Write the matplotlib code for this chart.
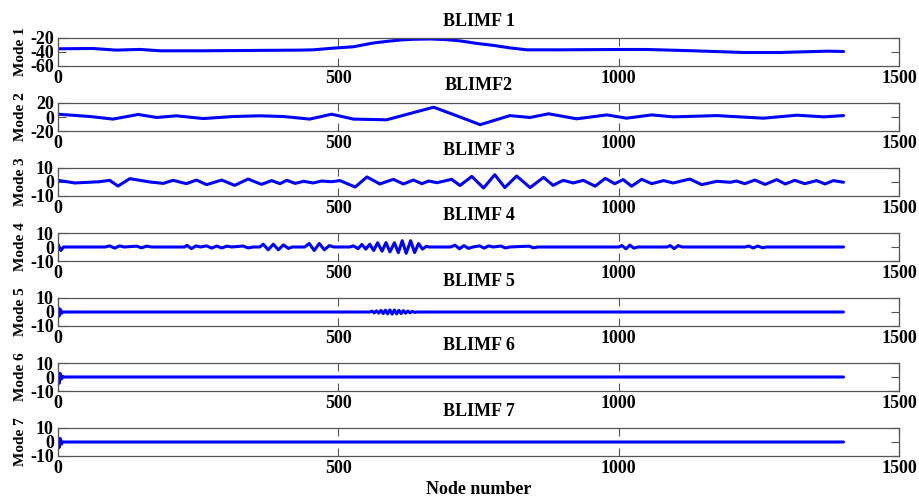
import matplotlib
matplotlib.use('Agg')
import matplotlib.pyplot as plt

plt.rcParams['font.family'] = ['Liberation Serif', 'DejaVu Serif']
plt.rcParams['font.weight'] = 'bold'
plt.rcParams['axes.unicode_minus'] = False

# values: (node, value) at turning points of each mode
mode1_nodes = [0, 62, 104, 146, 182, 253, 342, 432, 455, 491, 527, 562, 590, 610, 635,
               664, 690, 717, 745, 777, 805, 836, 896, 1003, 1050, 1134, 1223, 1288,
               1372, 1401]
mode1_vals = [-35.4, -35, -37.3, -36.3, -38.3, -38.3, -37.8, -37.3, -36.9, -34.5, -32.5,
              -27.2, -24.5, -22.9, -21.8, -21.4, -22.2, -24.1, -27.5, -30.6, -34,
              -36.9, -36.9, -36.4, -36.4, -38.3, -40.7, -40.7, -38.8, -39.3]

mode2_nodes = [0, 57, 98, 143, 176, 211, 259, 313, 360, 402, 449, 488, 527, 586, 670,
               717, 753, 806, 842, 875, 925, 979, 1014, 1059, 1097, 1175, 1258, 1318,
               1366, 1401]
mode2_vals = [4, 0.7, -3, 3.6, -0.7, 1.7, -2.2, 0.7, 1.7, 0.7, -3, 4, -3, -4, 14,
              0, -11, 2, -0.7, 4.6, -2.6, 3, -1.7, 3, 0.2, 2, -1.7, 2.6, 0.2, 2]

mode3_nodes = [0, 30, 74, 92, 107, 128, 164, 188, 205, 229, 247, 265, 292, 315, 339,
               363, 381, 396, 408, 423, 438, 455, 470, 488, 503, 530, 551, 574, 598,
               616, 634, 649, 661, 676, 702, 717, 738, 759, 779, 797, 818, 842, 866,
               883, 901, 919, 937, 958, 976, 993, 1008, 1023, 1041, 1059, 1080, 1097,
               1127, 1148, 1175, 1199, 1210, 1225, 1243, 1261, 1282, 1297, 1314, 1332,
               1353, 1368, 1383, 1401]
mode3_vals = [1.2, -0.7, 0.2, 1.2, -2.9, 2.4, 0, -1, 1.2, -1.2, 1.4, -1.9, 1.4, -2.4,
              2.1, -1.7, 1, -1.2, 1.2, -1, 0.5, -0.7, 0.7, 0.2, 1, -3.6, 3.6, -1.4,
              1.9, -1.4, 1.4, -1.2, 0.7, -0.5, 1.9, -2.5, 4, -4.3, 5.2, -4, 4.3, -4,
              3.3, -2.4, 1.2, -0.7, 1.2, -3, 2.6, -1.2, 1.7, -3, 1.9, -1.2, 1, -0.7,
              2.1, -1.9, 0.5, -0.2, 0.7, -1.2, 1.4, -1.7, 1.7, -1.4, 1.2, -1.2, 1,
              -1.4, 1, -0.2]

mode4_nodes = [0, 5, 10, 84, 92, 101, 110, 118, 140, 149, 158, 167, 226, 230, 238, 246,
               254, 265, 274, 283, 292, 301, 310, 330, 339, 348, 360, 366, 375, 384,
               393, 402, 411, 418, 440, 448, 457, 466, 475, 484, 492, 520, 527, 535,
               542, 549, 556, 563, 570, 578, 585, 592, 600, 607, 614, 621, 629, 636,
               643, 650, 657, 662, 700, 708, 716, 724, 732, 740, 752, 760, 768, 776,
               790, 798, 806, 840, 848, 856, 1000, 1006, 1013, 1020, 1027, 1034, 1086,
               1092, 1099, 1106, 1113, 1225, 1232, 1240, 1248, 1256, 1264, 1401]
mode4_vals = [2, -2.5, 0, 0, 0.8, -0.8, 0.8, 0, 0.6, -0.6, 0.6, 0, 0, 1.2, -1.2, 0.8,
              0, 0.8, -0.8, 0.7, -0.7, 0.6, 0, 0.7, -0.7, 0, 0, 2, -2, 2, -2, 1.5, -1,
              0, 0, 2.5, -2.5, 2.5, -2, 1, 0, 0, 0.8, -1.2, 1.8, -1.5, 2, -2.5, 3, -3,
              3.2, -3.5, 3, -4, 4.5, -4.5, 4.5, -4, 2.5, -1.5, 0.5, 0, 0, 1.3, -1.3, 1,
              -1, 0, 0.8, -0.8, 0.8, 0, 0.7, -0.7, 0, 0.6, -0.6, 0, 0, 1, -1.3, 1.3,
              -0.8, 0, 0, 1, -1.2, 1, 0, 0, 0.7, -0.7, 0.7, -0.5, 0, 0]

mode5_nodes = [0, 2, 4, 6, 8, 556, 560, 564, 568, 572, 576, 580, 584, 588, 592, 596,
               600, 604, 608, 612, 616, 620, 624, 628, 632, 636, 640, 1401]
mode5_vals = [3.5, -3, 2, -1, 0, 0, 0.6, -0.6, 0.8, -0.8, 1.1, -1.1, 1.3, -1.3, 1.5,
              -1.5, 1.4, -1.3, 1.2, -1.1, 1, -0.8, 0.7, -0.6, 0.5, -0.3, 0, 0]

mode6_nodes = [0, 2, 4, 6, 8, 10, 1401]
mode6_vals = [3, -4.5, 2.5, -1.5, 0.5, 0, 0]

mode7_nodes = [0, 2, 4, 6, 8, 1401]
mode7_vals = [3, -4, 2.5, -1.5, 0, 0]

titles = ['BLIMF 1', 'BLIMF2', 'BLIMF 3', 'BLIMF 4', 'BLIMF 5', 'BLIMF 6', 'BLIMF 7']
ylabels = ['Mode 1', 'Mode 2', 'Mode 3', 'Mode 4', 'Mode 5', 'Mode 6', 'Mode 7']
yticks = [[-60, -40, -20], [-20, 0, 20], [-10, 0, 10], [-10, 0, 10],
          [-10, 0, 10], [-10, 0, 10], [-10, 0, 10]]
xticks = [0, 500, 1000, 1500]

series = [(mode1_nodes, mode1_vals), (mode2_nodes, mode2_vals),
          (mode3_nodes, mode3_vals), (mode4_nodes, mode4_vals),
          (mode5_nodes, mode5_vals), (mode6_nodes, mode6_vals),
          (mode7_nodes, mode7_vals)]

W, H = 920, 497
fig = plt.figure(figsize=(W / 100, H / 100), dpi=100)

for i, (nodes, vals) in enumerate(series):
    top = 38 + 65 * i
    ax = fig.add_axes([58 / W, 1 - (top + 28) / H, 841 / W, 28 / H])
    ax.plot(nodes, vals, color='#0000ff', lw=2.2,
            solid_joinstyle='round', solid_capstyle='round')
    ax.set_xlim(0, 1500)
    ax.set_ylim(yticks[i][0], yticks[i][-1])
    ax.set_xticks(xticks)
    ax.set_yticks(yticks[i])
    ax.tick_params(direction='in', top=True, right=True, length=6, width=0.8,
                   color='#555555', labelsize=13, pad=3)
    for s in ax.spines.values():
        s.set_color('#555555')
        s.set_linewidth(0.9)
    ax.set_title(titles[i], fontsize=13, fontweight='bold', pad=9)
    ax.set_ylabel(ylabels[i], fontsize=11, fontweight='bold')
    ax.yaxis.set_label_coords(-0.037, 0.5)

fig.text(478.5 / W, 1 - 489 / H, 'Node number', ha='center', va='center',
         fontsize=13, fontweight='bold')

fig.savefig('out.png', dpi=100)
